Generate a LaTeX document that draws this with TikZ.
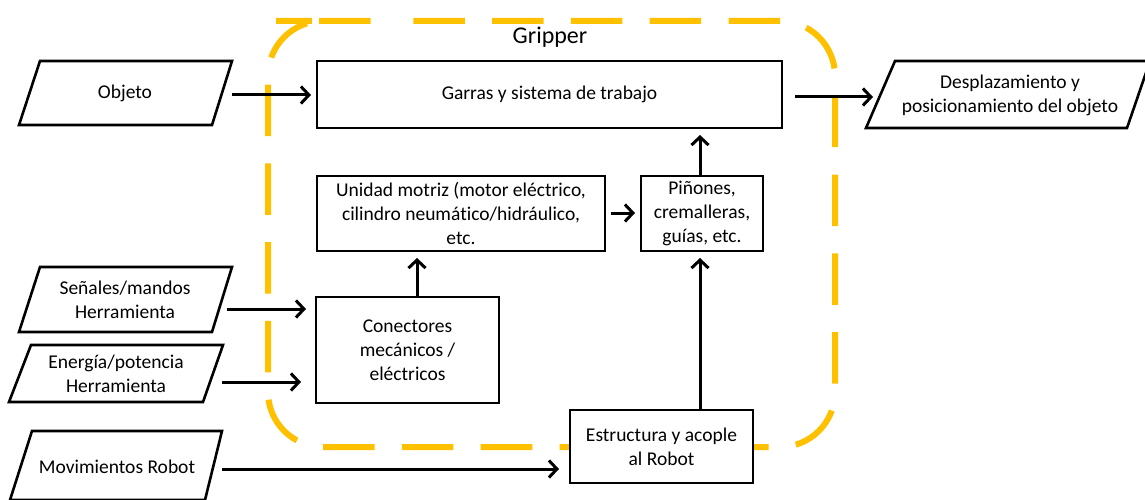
\documentclass[tikz,border=0pt]{standalone}
\usepackage{fontspec}
\setmainfont{Carlito}[Ligatures=NoCommon]
\usetikzlibrary{arrows.meta}
\definecolor{gold}{HTML}{FFC000}
\begin{document}
\begin{tikzpicture}[x=1pt,y=-1pt,
  boxst/.style={draw=black,line width=2.6pt,fill=white},
  parast/.style={draw=black,line width=2.6pt,fill=white,line join=miter},
  txt/.style={align=center,font=\fontsize{19.5}{24}\selectfont,inner sep=0pt},
  arr/.style={line width=3pt,-{Straight Barb[length=8pt,width=17pt,line width=3pt]}},
  grip/.style={draw=gold,line width=6pt,dash pattern=on 51.5pt off 27.3pt,dash phase=51.5pt,rounded corners=55pt}
]
\useasboundingbox (0,0) rectangle (1145,500);
% gripper boundary
\draw[grip] (331,21) -- (835,21) -- (835,447) -- (268,447) -- (268,21) -- cycle;
\node[txt,font=\fontsize{24}{28}\selectfont] (gripper) at (550,37) {Gripper};

% boxes
\draw[boxst] (317,61) rectangle (782,128);
\node[txt] (garras) at (549.5,94.5) {Garras y sistema de trabajo};
\coordinate (garrasL) at (317,95);
\coordinate (garrasR) at (782,97);
\coordinate (garrasB) at (700,128);

\draw[boxst] (317,176) rectangle (605,251);
\node[txt] (unidad) at (461,213.5) {Unidad motriz (motor eléctrico,\\cilindro neumático/hidráulico,\\etc.};
\coordinate (unidadR) at (605,213);
\coordinate (unidadB) at (417,251);

\draw[boxst] (641,176) rectangle (763,251);
\node[txt] (pin) at (702,213.5) {Piñones,\\cremalleras,\\guías, etc.};
\coordinate (pinL) at (641,213);
\coordinate (pinT) at (700,176);
\coordinate (pinB) at (700,251);

\draw[boxst] (316,297) rectangle (499,403);
\node[txt] (con) at (407.5,350) {Conectores\\mecánicos /\\eléctricos};
\coordinate (conT) at (417,297);
\coordinate (conL1) at (316,309);
\coordinate (conL2) at (316,382);

\draw[boxst] (570,410) rectangle (753,483);
\node[txt] (est) at (661.5,446.5) {Estructura y acople\\al Robot};
\coordinate (estT) at (700,410);
\coordinate (estL) at (570,469);

% parallelograms
\draw[parast] (40,61) -- (232,61) -- (212,125) -- (19,125) -- cycle;
\node[txt] (obj) at (125,93) {Objeto};
\coordinate (objR) at (232,95);

\draw[parast] (895,61) -- (1150,61) -- (1127,128) -- (866,128) -- cycle;
\node[txt] (out) at (1010,95) {Desplazamiento y\\posicionamiento del objeto};
\coordinate (outL) at (873,97);

\draw[parast] (40,267) -- (232,267) -- (212,332) -- (19,332) -- cycle;
\node[txt] (sen) at (125,299.5) {Señales/mandos\\Herramienta};
\coordinate (senR) at (227,309);

\draw[parast] (31,345) -- (223,345) -- (203,402) -- (9,402) -- cycle;
\node[txt] (ene) at (116,373.5) {Energía/potencia\\Herramienta};
\coordinate (eneR) at (222,382);

\draw[parast] (32,431) -- (222,431) -- (205,500) -- (10,500) -- cycle;
\node[txt] (mov) at (117,467) {Movimientos Robot};
\coordinate (movR) at (222,469);

% connectors
\draw[arr,shorten >=6pt] (objR) -- (garrasL);
\draw[arr,shorten <=13pt] (garrasR) -- (outL);
\draw[arr,shorten <=6pt,shorten >=6pt] (unidadR) -- (pinL);
\draw[arr,shorten >=7pt] (pinT) -- (garrasB);
\draw[arr,shorten >=7pt] (conT) -- (unidadB);
\draw[arr,shorten >=10pt] (senR) -- (conL1);
\draw[arr,shorten >=15pt] (eneR) -- (conL2);
\draw[arr,shorten >=11pt] (movR) -- (estL);
\draw[arr,shorten >=7pt] (estT) -- (pinB);
\end{tikzpicture}
\end{document}
